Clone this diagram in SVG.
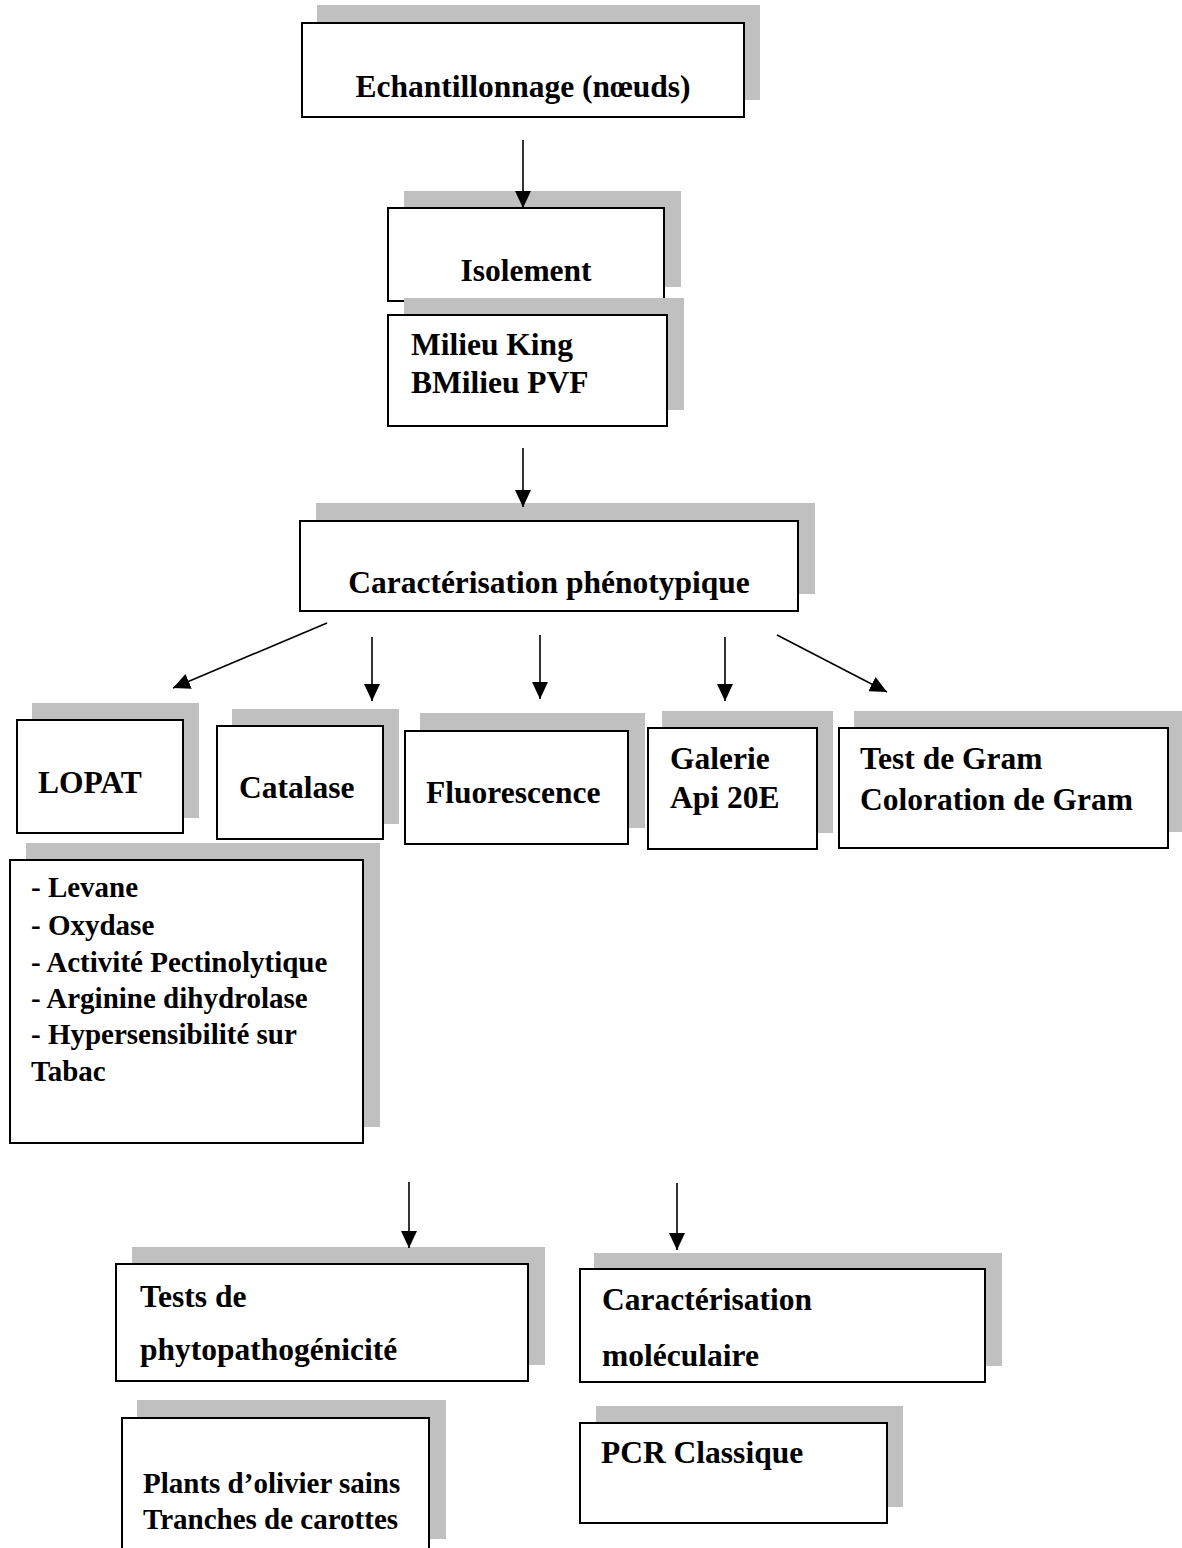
<svg xmlns="http://www.w3.org/2000/svg" width="1182" height="1548" viewBox="0 0 1182 1548">
<style>
.sh{fill:#c0c0c0;stroke:none}
.bx{fill:#fff;stroke:#000;stroke-width:2}
text{font-family:"Liberation Serif","Times New Roman",serif;font-weight:bold;font-size:31.5px;fill:#000}
.sm{font-size:29px}
.c{text-anchor:middle}
.ar{stroke:#000;stroke-width:1.6;fill:none;marker-end:url(#ah)}
</style>
<defs>
<marker id="ah" markerUnits="userSpaceOnUse" markerWidth="18" markerHeight="16" viewBox="0 0 18 16" refX="17" refY="8" orient="auto">
<path d="M0,0 L17,8 L0,16 Z" fill="#000"/>
</marker>
</defs>
<rect width="1182" height="1548" fill="#fff"/>
<g id="n-echantillonnage">
<rect class="sh" x="317" y="5" width="443" height="95"/>
<rect class="bx" x="302" y="23" width="442" height="94"/>
<text class="c" x="523" y="97">Echantillonnage (nœuds)</text>
</g>
<g id="n-isolement">
<rect class="sh" x="404" y="191" width="277" height="96"/>
<rect class="bx" x="388" y="208" width="276" height="93"/>
<text class="c" x="526" y="281">Isolement</text>
</g>
<g id="n-milieu">
<rect class="sh" x="404" y="298" width="280" height="112"/>
<rect class="bx" x="388" y="315" width="279" height="111"/>
<text x="411" y="355">Milieu King</text>
<text x="411" y="393">BMilieu PVF</text>
</g>
<g id="n-phenotypique">
<rect class="sh" x="316" y="503" width="499" height="91"/>
<rect class="bx" x="300" y="521" width="498" height="90"/>
<text class="c" x="549" y="593">Caractérisation phénotypique</text>
</g>
<g id="n-lopat">
<rect class="sh" x="32" y="703" width="167" height="115"/>
<rect class="bx" x="17" y="720" width="166" height="113"/>
<text x="38" y="793">LOPAT</text>
</g>
<g id="n-catalase">
<rect class="sh" x="232" y="709" width="167" height="115"/>
<rect class="bx" x="217" y="726" width="166" height="113"/>
<text x="239" y="798">Catalase</text>
</g>
<g id="n-fluorescence">
<rect class="sh" x="420" y="713" width="225" height="115"/>
<rect class="bx" x="405" y="731" width="223" height="113"/>
<text x="426" y="803">Fluorescence</text>
</g>
<g id="n-galerie">
<rect class="sh" x="662" y="711" width="171" height="122"/>
<rect class="bx" x="648" y="728" width="169" height="121"/>
<text x="670" y="769">Galerie</text>
<text x="670" y="808">Api 20E</text>
</g>
<g id="n-gram">
<rect class="sh" x="854" y="711" width="330" height="121"/>
<rect class="bx" x="839" y="728" width="329" height="120"/>
<text x="860" y="769">Test de Gram</text>
<text x="860" y="810">Coloration de Gram</text>
</g>
<g id="n-lopat-tests">
<rect class="sh" x="26" y="843" width="354" height="284"/>
<rect class="bx" x="10" y="860" width="353" height="283"/>
<text class="sm" x="31" y="897">- Levane</text>
<text class="sm" x="31" y="935">- Oxydase</text>
<text class="sm" x="31" y="972">- Activité Pectinolytique</text>
<text class="sm" x="31" y="1008">- Arginine dihydrolase</text>
<text class="sm" x="31" y="1044">- Hypersensibilité sur</text>
<text class="sm" x="31" y="1081">Tabac</text>
</g>
<g id="n-phyto">
<rect class="sh" x="132" y="1247" width="413" height="118"/>
<rect class="bx" x="116" y="1264" width="412" height="117"/>
<text x="140" y="1307">Tests de</text>
<text x="140" y="1360">phytopathogénicité</text>
</g>
<g id="n-moleculaire">
<rect class="sh" x="594" y="1253" width="408" height="113"/>
<rect class="bx" x="580" y="1269" width="405" height="113"/>
<text x="602" y="1310">Caractérisation</text>
<text x="602" y="1366">moléculaire</text>
</g>
<g id="n-plants">
<rect class="sh" x="137" y="1400" width="309" height="139"/>
<rect class="bx" x="122" y="1418" width="307" height="140"/>
<text class="sm" x="143" y="1493">Plants d’olivier sains</text>
<text class="sm" x="143" y="1529">Tranches de carottes</text>
</g>
<g id="n-pcr">
<rect class="sh" x="596" y="1406" width="307" height="101"/>
<rect class="bx" x="580" y="1423" width="307" height="100"/>
<text x="601" y="1463">PCR Classique</text>
</g>
<g id="connectors">
<line class="ar" x1="523" y1="140" x2="523" y2="208"/>
<line class="ar" x1="523" y1="448" x2="523" y2="507"/>
<line class="ar" x1="327" y1="623" x2="173" y2="688"/>
<line class="ar" x1="372" y1="637" x2="372" y2="701"/>
<line class="ar" x1="540" y1="635" x2="540" y2="699"/>
<line class="ar" x1="725" y1="637" x2="725" y2="701"/>
<line class="ar" x1="777" y1="635" x2="887" y2="692"/>
<line class="ar" x1="409" y1="1182" x2="409" y2="1248"/>
<line class="ar" x1="677" y1="1183" x2="677" y2="1250"/>
</g>
</svg>
